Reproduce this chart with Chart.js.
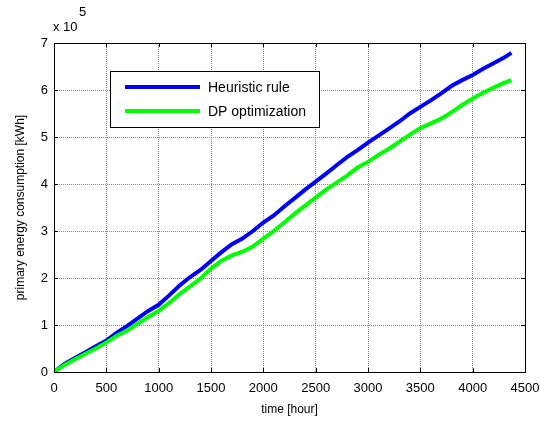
<!DOCTYPE html>
<html>
<head>
<meta charset="utf-8">
<script src="https://cdn.jsdelivr.net/npm/chart.js@4/dist/chart.umd.min.js"></script>
<style>
  html, body { margin: 0; padding: 0; background: #fff; }
  #chart { display: block; }
</style>
</head>
<body>
<canvas id="chart" width="540" height="425"></canvas>
<script>
// time axis samples [hour]
const hours = [0, 100, 200, 300, 400, 500, 600, 700, 800, 900,
  1000, 1100, 1200, 1300, 1400, 1500, 1600, 1700, 1800, 1900,
  2000, 2100, 2200, 2300, 2400, 2500, 2600, 2700, 2800, 2900,
  3000, 3100, 3200, 3300, 3400, 3500, 3600, 3700, 3800, 3900,
  4000, 4100, 4200, 4300, 4370];

// primary energy consumption, in units of 10^5 kWh
const heuristic = [0, 0.17, 0.30, 0.42, 0.55, 0.67, 0.84, 0.98, 1.14, 1.30,
  1.43, 1.63, 1.84, 2.02, 2.17, 2.36, 2.55, 2.72, 2.84, 3.00,
  3.18, 3.33, 3.52, 3.70, 3.88, 4.05, 4.22, 4.40, 4.57, 4.72,
  4.88, 5.03, 5.18, 5.33, 5.50, 5.64, 5.78, 5.93, 6.09, 6.21,
  6.32, 6.45, 6.57, 6.69, 6.79];

const dpOpt = [0, 0.15, 0.27, 0.39, 0.50, 0.63, 0.77, 0.88, 1.03, 1.17,
  1.30, 1.47, 1.66, 1.82, 1.99, 2.20, 2.37, 2.48, 2.56, 2.67,
  2.84, 3.00, 3.18, 3.37, 3.54, 3.71, 3.88, 4.03, 4.18, 4.35,
  4.47, 4.62, 4.75, 4.90, 5.05, 5.19, 5.29, 5.39, 5.53, 5.68,
  5.82, 5.94, 6.05, 6.15, 6.21];

const xTicks = [0, 500, 1000, 1500, 2000, 2500, 3000, 3500, 4000, 4500];
const yTicks = [0, 1, 2, 3, 4, 5, 6, 7];
const yExponent = '5';

const FONT = 'Arial, "Liberation Sans", Helvetica, sans-serif';

function toPoints(xs, ys) {
  return xs.map((x, i) => ({ x: x, y: ys[i] }));
}

// matlab style frame: full box, inward ticks, exponent label and legend
const matlabFrame = {
  id: 'matlabFrame',
  afterDatasetsDraw(chart) {
    const ctx = chart.ctx;
    const a = chart.chartArea;
    const xs = chart.scales.x;
    const ys = chart.scales.y;
    ctx.save();

    ctx.strokeStyle = '#000';
    ctx.lineWidth = 1;
    ctx.beginPath();
    xTicks.forEach(v => {
      const px = Math.round(xs.getPixelForValue(v)) + 0.5;
      ctx.moveTo(px, a.bottom); ctx.lineTo(px, a.bottom - 4);
      ctx.moveTo(px, a.top); ctx.lineTo(px, a.top + 4);
    });
    yTicks.forEach(v => {
      const py = Math.round(ys.getPixelForValue(v)) + 0.5;
      ctx.moveTo(a.left, py); ctx.lineTo(a.left + 4, py);
      ctx.moveTo(a.right, py); ctx.lineTo(a.right - 4, py);
    });
    ctx.stroke();
    ctx.strokeRect(Math.round(a.left) + 0.5, Math.round(a.top) + 0.5,
      Math.round(a.right - a.left), Math.round(a.bottom - a.top));

    // exponent label
    ctx.fillStyle = '#000';
    ctx.textBaseline = 'middle';
    ctx.textAlign = 'left';
    ctx.font = '13px ' + FONT;
    ctx.fillText('x 10', a.left - 1, a.top - 16);
    ctx.fillText(yExponent, a.left + 25, a.top - 31);

    // legend
    const lx = a.left + 56, ly = a.top + 28, lw = 209, lh = 56;
    ctx.fillStyle = '#fff';
    ctx.fillRect(lx, ly, lw, lh);
    ctx.strokeRect(lx + 0.5, ly + 0.5, lw, lh);
    chart.data.datasets.forEach((ds, i) => {
      const yy = ly + 16 + i * 24;
      ctx.strokeStyle = ds.borderColor;
      ctx.lineWidth = 4;
      ctx.beginPath();
      ctx.moveTo(lx + 15, yy);
      ctx.lineTo(lx + 90, yy);
      ctx.stroke();
      ctx.fillStyle = '#000';
      ctx.font = '14px ' + FONT;
      ctx.fillText(ds.label, lx + 98, yy + 1);
    });
    ctx.restore();
  }
};

new Chart(document.querySelector('#chart').getContext('2d'), {
  type: 'line',
  data: {
    datasets: [
      {
        label: 'Heuristic rule',
        data: toPoints(hours, heuristic),
        borderColor: '#0000ff',
        borderWidth: 4,
        pointRadius: 0,
        tension: 0,
        order: 1
      },
      {
        label: 'DP optimization',
        data: toPoints(hours, dpOpt),
        borderColor: '#00ff00',
        borderWidth: 4,
        pointRadius: 0,
        tension: 0,
        order: 0
      }
    ]
  },
  options: {
    responsive: false,
    animation: false,
    devicePixelRatio: 1,
    layout: { padding: { left: 0, right: 15, top: 43, bottom: 0 }, autoPadding: false },
    plugins: {
      legend: { display: false },
      tooltip: { enabled: false }
    },
    scales: {
      x: {
        type: 'linear',
        min: 0,
        max: 4500,
        afterBuildTicks: s => { s.ticks = xTicks.map(v => ({ value: v })); },
        afterFit: s => { s.height = 53; s.paddingLeft = 0; s.paddingRight = 0; },
        grid: { color: '#888', drawTicks: false },
        border: { display: true, color: '#000', dash: [1, 1] },
        ticks: {
          color: '#000',
          padding: 9,
          maxRotation: 0,
          callback: v => String(v),
          font: { family: FONT, size: 13 }
        },
        title: {
          display: true,
          text: 'time [hour]',
          color: '#000',
          padding: { top: 0, bottom: 8 },
          font: { family: FONT, size: 12 }
        }
      },
      y: {
        min: 0,
        max: 7,
        afterBuildTicks: s => { s.ticks = yTicks.map(v => ({ value: v })); },
        afterFit: s => { s.width = 54; s.paddingTop = 0; s.paddingBottom = 0; },
        grid: { color: '#888', drawTicks: false },
        border: { display: true, color: '#000', dash: [1, 1] },
        ticks: {
          color: '#000',
          padding: 6,
          callback: v => String(v),
          font: { family: FONT, size: 13 }
        },
        title: {
          display: true,
          text: 'primary energy consumption [kWh]',
          color: '#000',
          padding: { top: 13, bottom: 0 },
          font: { family: FONT, size: 12 }
        }
      }
    }
  },
  plugins: [matlabFrame]
});
</script>
</body>
</html>
